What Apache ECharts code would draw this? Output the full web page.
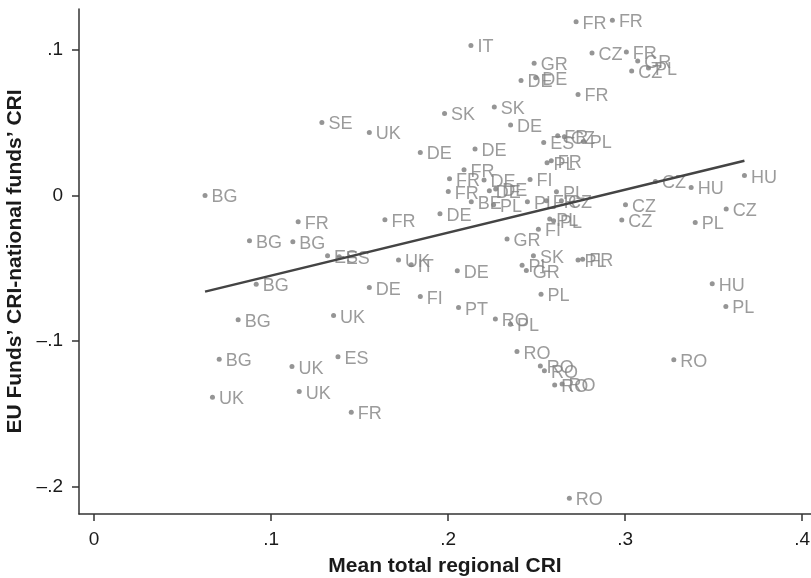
<!DOCTYPE html>
<html>
<head>
<meta charset="utf-8">
<title>EU funds CRI vs regional CRI</title>
<script src="https://cdn.jsdelivr.net/npm/echarts@6/dist/echarts.min.js"></script>
<style>
  html, body { margin: 0; padding: 0; background: #fff; }
  #chart { width: 811px; height: 578px; }
</style>
</head>
<body>
<div id="chart"></div>
<script>
// Region labels (country codes) and their coordinates
const countries = [
    'FR', 'FR', 'IT', 'GR', 'DE', 'DE', 'CZ', 'FR', 'GR', 'PL',
    'CZ', 'FR', 'SE', 'UK', 'SK', 'SK', 'DE', 'DE', 'DE', 'ES',
    'FR', 'CZ', 'PL', 'PL', 'FR', 'FR', 'FR', 'DE', 'FI', 'FR',
    'DE', 'DE', 'PL', 'BE', 'PL', 'PL', 'FR', 'CZ', 'CZ', 'HU',
    'HU', 'CZ', 'CZ', 'CZ', 'PL', 'PL', 'PL', 'FI', 'GR', 'SK',
    'PL', 'GR', 'PL', 'FR', 'DE', 'PL', 'FI', 'PT', 'RO', 'PL',
    'RO', 'RO', 'RO', 'RO', 'RO', 'RO', 'RO', 'HU', 'PL', 'BG',
    'BG', 'BG', 'FR', 'BG', 'BG', 'BG', 'UK', 'UK', 'UK', 'FR',
    'ES', 'UK', 'DE', 'ES', 'ES', 'FR', 'DE', 'UK', 'IT'
];
const regionalCRI = [
    0.2723, 0.2928, 0.2129, 0.2486, 0.2412, 0.2495, 0.2813, 0.3007, 0.3071, 0.3132,
    0.3037, 0.2734, 0.1287, 0.1555, 0.1980, 0.2261, 0.2353, 0.1843, 0.2152, 0.2540,
    0.2619, 0.2657, 0.2764, 0.2559, 0.2583, 0.2090, 0.2008, 0.2203, 0.2463, 0.2001,
    0.2233, 0.2269, 0.2612, 0.2131, 0.2257, 0.2448, 0.2555, 0.2640, 0.3171, 0.3373,
    0.3674, 0.3002, 0.2981, 0.3571, 0.3396, 0.2574, 0.2596, 0.2510, 0.2333, 0.2482,
    0.2418, 0.2442, 0.2734, 0.2760, 0.2052, 0.2525, 0.1843, 0.2059, 0.2267, 0.2352,
    0.2389, 0.2521, 0.2544, 0.2602, 0.2644, 0.2685, 0.3275, 0.3492, 0.3569, 0.0627,
    0.0878, 0.1123, 0.1153, 0.0916, 0.0814, 0.0707, 0.1118, 0.0669, 0.1159, 0.1453,
    0.1378, 0.1353, 0.1555, 0.1319, 0.1385, 0.1643, 0.1954, 0.1720, 0.1792
];
const fundsDiff = [
    0.1193, 0.1202, 0.1030, 0.0907, 0.0790, 0.0808, 0.0978, 0.0985, 0.0923, 0.0875,
    0.0854, 0.0694, 0.0501, 0.0433, 0.0563, 0.0607, 0.0484, 0.0295, 0.0319, 0.0364,
    0.0410, 0.0403, 0.0371, 0.0225, 0.0238, 0.0177, 0.0115, 0.0106, 0.0110, 0.0027,
    0.0032, 0.0044, 0.0025, -0.0043, -0.0064, -0.0043, -0.0036, -0.0036, 0.0096, 0.0055,
    0.0137, -0.0064, -0.0169, -0.0093, -0.0185, -0.0162, -0.0174, -0.0231, -0.0299, -0.0414,
    -0.0478, -0.0515, -0.0442, -0.0437, -0.0517, -0.0677, -0.0694, -0.0769, -0.0847, -0.0883,
    -0.1071, -0.1170, -0.1202, -0.1300, -0.1293, -0.2078, -0.1128, -0.0606, -0.0762, 0.0000,
    -0.0311, -0.0318, -0.0181, -0.0609, -0.0852, -0.1124, -0.1174, -0.1385, -0.1346, -0.1488,
    -0.1106, -0.0824, -0.0632, -0.0414, -0.0421, -0.0167, -0.0126, -0.0442, -0.0476
];

// Fitted line end points
const fitX = [0.0627, 0.3674];
const fitY = [-0.0660, 0.0238];

// Tick values
const xTicks = [0, 0.1, 0.2, 0.3, 0.4];
const yTicks = [-0.2, -0.1, 0, 0.1];

function stataLabel(v) {
    if (v === 0) return '0';
    const s = String(Math.abs(v)).replace(/^0/, '');
    return v < 0 ? '\u2013' + s : s;
}

const points = countries.map((c, i) => ({ value: [regionalCRI[i], fundsDiff[i]], name: c }));

const chart = echarts.init(document.getElementById('chart'));
const axisColor = '#333';
const fontFamily = '"Liberation Sans", Arial, Helvetica, sans-serif';

chart.setOption({
    backgroundColor: '#fff',
    animation: false,
    grid: { left: 79, right: 0, top: 9, bottom: 64, outerBoundsMode: 'none', containLabel: false },
    xAxis: {
        type: 'value',
        min: -0.0085,
        max: 0.405,
        name: 'Mean total regional CRI',
        nameLocation: 'middle',
        nameGap: 42,
        nameTextStyle: { fontFamily, fontSize: 21, fontWeight: 'bold', color: '#1a1a1a' },
        axisLine: { onZero: false, lineStyle: { color: axisColor, width: 1.5 } },
        axisTick: { show: true, length: 7, customValues: xTicks, lineStyle: { color: axisColor, width: 1.5 } },
        axisLabel: { customValues: xTicks, formatter: stataLabel, margin: 16, fontFamily, fontSize: 19, color: '#1a1a1a' },
        splitLine: { show: false }
    },
    yAxis: {
        type: 'value',
        min: -0.2186,
        max: 0.128,
        name: 'EU Funds\u2019 CRI-national funds\u2019 CRI',
        nameLocation: 'middle',
        nameGap: 51,
        nameTextStyle: { fontFamily, fontSize: 21, fontWeight: 'bold', color: '#1a1a1a' },
        axisLine: { show: true, onZero: false, lineStyle: { color: axisColor, width: 1.5 } },
        axisTick: { show: true, length: 7, customValues: yTicks, lineStyle: { color: axisColor, width: 1.5 } },
        axisLabel: { customValues: yTicks, formatter: stataLabel, margin: 16, fontFamily, fontSize: 19, color: '#1a1a1a' },
        splitLine: { show: false }
    },
    series: [
        {
            type: 'scatter',
            data: points,
            clip: false,
            symbolSize: 5,
            itemStyle: { color: '#7a7a7a' },
            label: {
                show: true,
                position: 'right',
                distance: 4,
                offset: [0, 2],
                formatter: p => p.name,
                fontFamily,
                fontSize: 18,
                color: '#828282'
            },
            z: 2
        },
        {
            type: 'line',
            data: fitX.map((x, i) => [x, fitY[i]]),
            symbol: 'none',
            lineStyle: { color: '#444', width: 2.5 },
            z: 3
        }
    ]
});
</script>
</body>
</html>
